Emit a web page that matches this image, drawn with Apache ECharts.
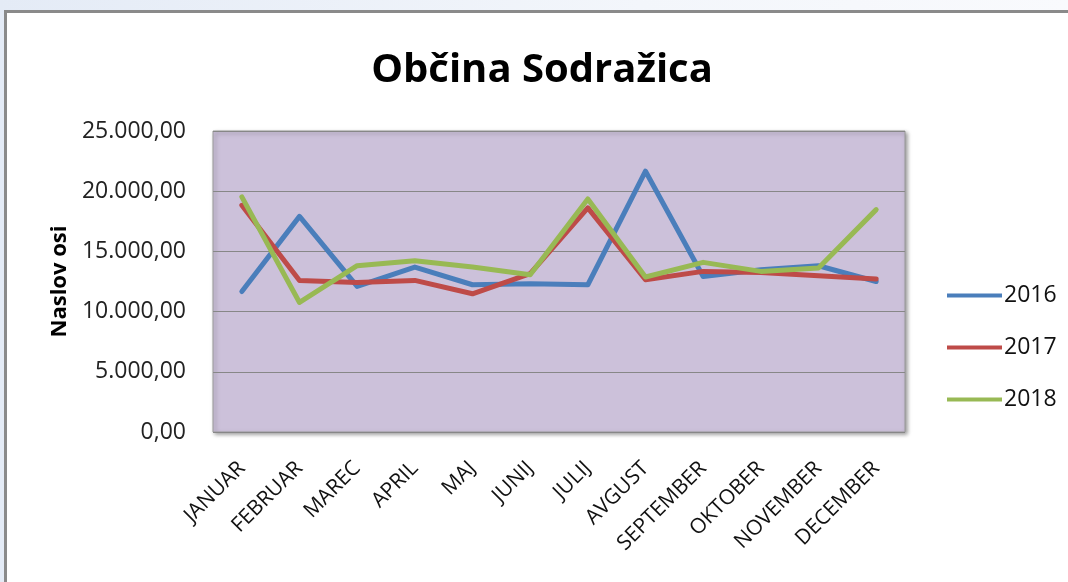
<!DOCTYPE html>
<html>
<head>
<meta charset="utf-8">
<script src="https://cdn.jsdelivr.net/npm/echarts@6/dist/echarts.min.js"></script>
<style>
    html, body { margin: 0; padding: 0; }
    body {
        width: 1068px; height: 582px; overflow: hidden; position: relative;
        background: linear-gradient(90deg, #e4ebf6 0%, #f3f6fb 60%, #f9fafd 100%);
    }
    #frame {
        position: absolute; left: 4px; top: 10px; width: 1100px; height: 600px;
        border-left: 3px solid #8a8a8a; border-top: 3px solid #8a8a8a;
        background: #ffffff;
    }
    #myChart { position: absolute; left: 0; top: 0; width: 1068px; height: 582px; }
</style>
</head>
<body>
<div id="frame"></div>
<div id="myChart"></div>
<script>
    // mesečni podatki, odčitani s slike
    var months = ['JANUAR', 'FEBRUAR', 'MAREC', 'APRIL', 'MAJ', 'JUNIJ', 'JULIJ', 'AVGUST', 'SEPTEMBER', 'OKTOBER', 'NOVEMBER', 'DECEMBER'];
    var years = ['2016', '2017', '2018'];
    var data2016 = [11670, 17910, 12090, 13700, 12230, 12310, 12230, 21660, 12920, 13480, 13810, 12500];
    var data2017 = [18830, 12590, 12420, 12590, 11480, 13150, 18610, 12650, 13340, 13250, 12980, 12700];
    var data2018 = [19530, 10760, 13810, 14230, 13700, 13060, 19360, 12870, 14090, 13340, 13620, 18470];
    var colors = ['#4a7ebb', '#be4b48', '#98b954'];

    function fmt(v) {
        var s = Math.round(v).toString().replace(/\B(?=(\d{3})+(?!\d))/g, '.');
        return s + ',00';
    }

    var font = '"Open Sans", sans-serif';
    var myChart = echarts.init(document.getElementById('myChart'));

    var seriesData = [data2016, data2017, data2018];
    var series = years.map(function (y, i) {
        return {
            name: y,
            type: 'line',
            data: seriesData[i],
            symbol: 'none',
            animation: false,
            lineStyle: { width: 5, color: colors[i], cap: 'round', join: 'round' },
            itemStyle: { color: colors[i] }
        };
    });

    var option = {
        backgroundColor: 'transparent',
        textStyle: { fontFamily: font },
        title: {
            text: 'Občina Sodražica',
            left: 537,
            textAlign: 'center',
            top: 46,
            textStyle: { fontFamily: font, fontSize: 40, fontWeight: 'bold', color: '#000' }
        },
        legend: {
            orient: 'vertical',
            left: 942,
            top: 279,
            itemWidth: 55,
            itemHeight: 4,
            itemGap: 29,
            icon: 'rect',
            data: years,
            textStyle: { fontFamily: font, fontSize: 23, color: '#111', padding: [0, 0, 0, -3] }
        },
        grid: {
            left: 213,
            top: 131,
            width: 692,
            height: 301,
            show: true,
            backgroundColor: '#ccc1da',
            borderColor: '#9a9a9a',
            borderWidth: 1,
            shadowColor: 'rgba(0,0,0,0.4)',
            shadowBlur: 4,
            shadowOffsetX: 2,
            shadowOffsetY: 2
        },
        xAxis: {
            type: 'category',
            data: months,
            boundaryGap: true,
            axisLine: { show: false },
            axisTick: { show: false },
            axisLabel: {
                rotate: 45,
                interval: 0,
                margin: 33,
                fontFamily: font,
                fontSize: 21,
                color: '#111'
            }
        },
        yAxis: {
            type: 'value',
            min: 0,
            max: 25000,
            interval: 5000,
            name: 'Naslov osi',
            nameLocation: 'middle',
            nameGap: 142,
            nameTextStyle: { fontFamily: font, fontSize: 22, fontWeight: 'bold', color: '#000' },
            axisLine: { show: false },
            axisTick: { show: false },
            axisLabel: {
                margin: 27,
                fontFamily: font,
                fontSize: 23,
                color: '#222',
                formatter: fmt
            },
            splitLine: { lineStyle: { color: '#878787', width: 1 } }
        },
        series: series
    };
    myChart.setOption(option);
</script>
</body>
</html>
